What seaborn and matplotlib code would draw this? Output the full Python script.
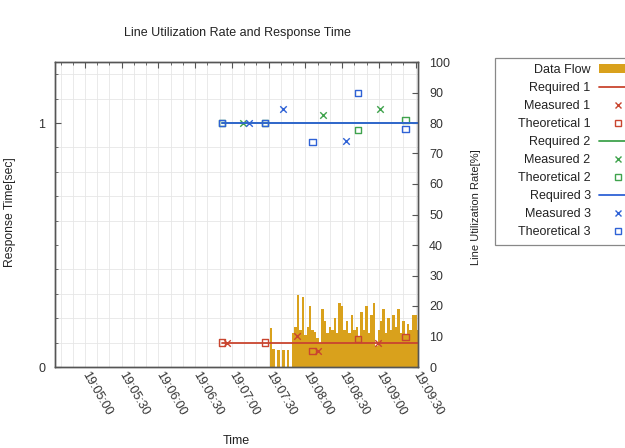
import pandas as pd
import matplotlib
matplotlib.use("Agg")
import matplotlib.pyplot as plt
import matplotlib.dates as mdates
from matplotlib.ticker import MultipleLocator, FixedLocator
from matplotlib.lines import Line2D
from matplotlib.patches import Patch, Rectangle
import seaborn as sns

# time axis: seconds after 19:05:00
base = pd.Timestamp("2020-01-01 19:05:00")
x_start, x_end = -24.5, 272

# data flow [%], one box every 2 s starting at 19:07:32
flow_start = 152
flow_step = 2
flow_values = [12.8, 6, 0, 5.6, 0, 5.6, 0, 5.5, 0, 11,
               13, 23.6, 12, 23, 10.5, 13, 20, 12, 11.5, 9.5,
               8, 19, 15, 11, 13, 12, 16, 11, 21, 20,
               12, 15, 11, 17, 12, 13, 10, 18, 12, 20,
               11, 17, 21, 7, 12, 15, 19, 11, 16, 12,
               17, 13, 19, 11, 15, 10.5, 14, 12, 17, 17, 12]

# required response times [sec]
req_t = [112, 272]
required_1 = [0.1, 0.1]
required_2 = [1.0, 1.0]
required_3 = [1.0, 1.0]

# measured / theoretical response times [sec]
meas1_t = [116, 173, 190, 239]
meas1_v = [0.1, 0.127, 0.066, 0.1]
theo1_t = [112, 147, 186, 223, 262]
theo1_v = [0.1, 0.1, 0.066, 0.115, 0.123]
meas2_t = [129, 194, 241]
meas2_v = [1.0, 1.033, 1.057]
theo2_t = [112, 147, 223, 262]
theo2_v = [1.0, 1.0, 0.971, 1.012]
meas3_t = [134, 162, 213]
meas3_v = [1.0, 1.057, 0.926]
theo3_t = [112, 147, 186, 223, 262]
theo3_v = [1.0, 1.0, 0.922, 1.123, 0.975]

gold = "#D9A11C"
red = "#C9452F"
green = "#3FA34D"
blue = "#2F62D6"
spine_c = "#555555"
fs = 9


def to_time(sec):
    return [base + pd.Timedelta(seconds=s) for s in sec]


sns.set_style("white")
plt.rcParams["font.family"] = ["Liberation Sans", "DejaVu Sans"]
plt.rcParams["font.size"] = fs

fig = plt.figure(figsize=(6.25, 4.48), dpi=100)
ax = fig.add_axes([55 / 625, 1 - 367 / 448, 363 / 625, 305 / 448])
ax2 = ax.twinx()
ax.set_zorder(ax2.get_zorder() + 1)
ax.patch.set_visible(False)

# data flow boxes (right axis)
flow_t = to_time([flow_start + i * flow_step for i in range(len(flow_values))])
ax2.bar(flow_t, flow_values, width=pd.Timedelta(seconds=flow_step),
        color=gold, linewidth=0, zorder=2)

# required lines
for vals, c in [(required_1, red), (required_2, green), (required_3, blue)]:
    sns.lineplot(x=to_time(req_t), y=vals, color=c, linewidth=1.3, ax=ax)

# markers
for t, v, c in [(meas1_t, meas1_v, red), (meas2_t, meas2_v, green), (meas3_t, meas3_v, blue)]:
    sns.scatterplot(x=to_time(t), y=v, marker="x", color=c, s=22, linewidth=1.0, ax=ax)
for t, v, c in [(theo1_t, theo1_v, red), (theo2_t, theo2_v, green), (theo3_t, theo3_v, blue)]:
    sns.scatterplot(x=to_time(t), y=v, marker="s", facecolor="none", edgecolor=c,
                    s=22, linewidth=1.0, ax=ax)

# axes limits / ticks
ax.set_xlim(base + pd.Timedelta(seconds=x_start), base + pd.Timedelta(seconds=x_end))
ax.set_ylim(0, 1.25)
ax2.set_ylim(0, 100)

ax.xaxis.set_major_locator(mdates.SecondLocator(bysecond=[0, 30]))
ax.xaxis.set_minor_locator(mdates.SecondLocator(bysecond=[0, 10, 20, 30, 40, 50]))
ax.xaxis.set_major_formatter(mdates.DateFormatter("%H:%M:%S"))
ax.yaxis.set_major_locator(FixedLocator([0, 1]))
ax.yaxis.set_minor_locator(MultipleLocator(0.1))
ax2.yaxis.set_major_locator(MultipleLocator(10))
ax2.yaxis.set_minor_locator(MultipleLocator(8))

ax.tick_params(axis="both", which="both", direction="in", colors=spine_c,
               labelcolor="#333333", labelsize=fs)
ax.tick_params(axis="x", which="both", top=True)
ax.tick_params(which="major", length=4, width=0.8)
ax.tick_params(which="minor", length=2.5, width=0.6)
ax.tick_params(axis="y", which="both", right=False, pad=7)
ax.tick_params(axis="x", pad=4)
ax2.tick_params(axis="y", which="major", direction="in", length=4, width=0.8,
                colors=spine_c, labelcolor="#333333", labelsize=fs, pad=8)
ax2.tick_params(axis="y", which="minor", length=0)

# grid behind the boxes
ax2.xaxis.set_visible(True)
ax2.tick_params(axis="x", which="both", length=0, labelbottom=False, labeltop=False)
ax2.grid(True, which="both", axis="x", color="#e6e6e6", linewidth=0.6, zorder=0)
ax2.grid(True, which="minor", axis="y", color="#e6e6e6", linewidth=0.6, zorder=0)
ax2.set_axisbelow(True)

for lab in ax.get_xticklabels():
    lab.set_rotation(-60)
    lab.set_ha("left")
    lab.set_va("center")
    lab.set_rotation_mode("anchor")

for a in (ax, ax2):
    for sp in a.spines.values():
        sp.set_visible(True)
        sp.set_color(spine_c)
        sp.set_linewidth(1.0)

# labels
fig.text(237 / 625, 1 - 33 / 448, "Line Utilization Rate and Response Time",
         ha="center", va="center", fontsize=fs, color="#222222")
ax.set_ylabel("Response Time[sec]", fontsize=8.7, color="#222222")
ax.yaxis.set_label_coords(-(55 - 16) / 363, (367 - 212) / 305)
ax2.set_ylabel("Line Utilization Rate[%]", fontsize=8, color="#222222")
ax2.yaxis.set_label_coords((471 - 55) / 363, (367 - 207) / 305)
ax.set_xlabel("Time", fontsize=fs, color="#222222", va="center")
ax.xaxis.set_label_coords(0.5, -(441 - 367) / 305)

# legend (frame drawn separately, it runs past the right edge)
fig.patches.append(Rectangle((495 / 625, 1 - 245 / 448), 140 / 625, 187 / 448,
                             transform=fig.transFigure, facecolor="white",
                             edgecolor="#888888", linewidth=0.9, zorder=1))
handles = [
    Patch(facecolor=gold, edgecolor="none"),
    Line2D([], [], color=red, linewidth=1.3),
    Line2D([], [], color=red, marker="x", linestyle="none", markersize=4),
    Line2D([], [], color=red, marker="s", markerfacecolor="none", linestyle="none", markersize=4),
    Line2D([], [], color=green, linewidth=1.3),
    Line2D([], [], color=green, marker="x", linestyle="none", markersize=4),
    Line2D([], [], color=green, marker="s", markerfacecolor="none", linestyle="none", markersize=4),
    Line2D([], [], color=blue, linewidth=1.3),
    Line2D([], [], color=blue, marker="x", linestyle="none", markersize=4),
    Line2D([], [], color=blue, marker="s", markerfacecolor="none", linestyle="none", markersize=4),
]
labels = ["Data Flow", "Required 1", "Measured 1", "Theoretical 1",
          "Required 2", "Measured 2", "Theoretical 2",
          "Required 3", "Measured 3", "Theoretical 3"]
leg = fig.legend(handles, labels, loc="upper left",
                 bbox_to_anchor=(518 / 625, 1 - 64 / 448),
                 markerfirst=False, frameon=False, fontsize=fs,
                 handlelength=3.0, labelspacing=0.48, borderpad=0,
                 handletextpad=0.65, borderaxespad=0)
leg.set_zorder(2)
for t in leg.get_texts():
    t.set_color("#222222")

fig.savefig("out.png", dpi=100)
